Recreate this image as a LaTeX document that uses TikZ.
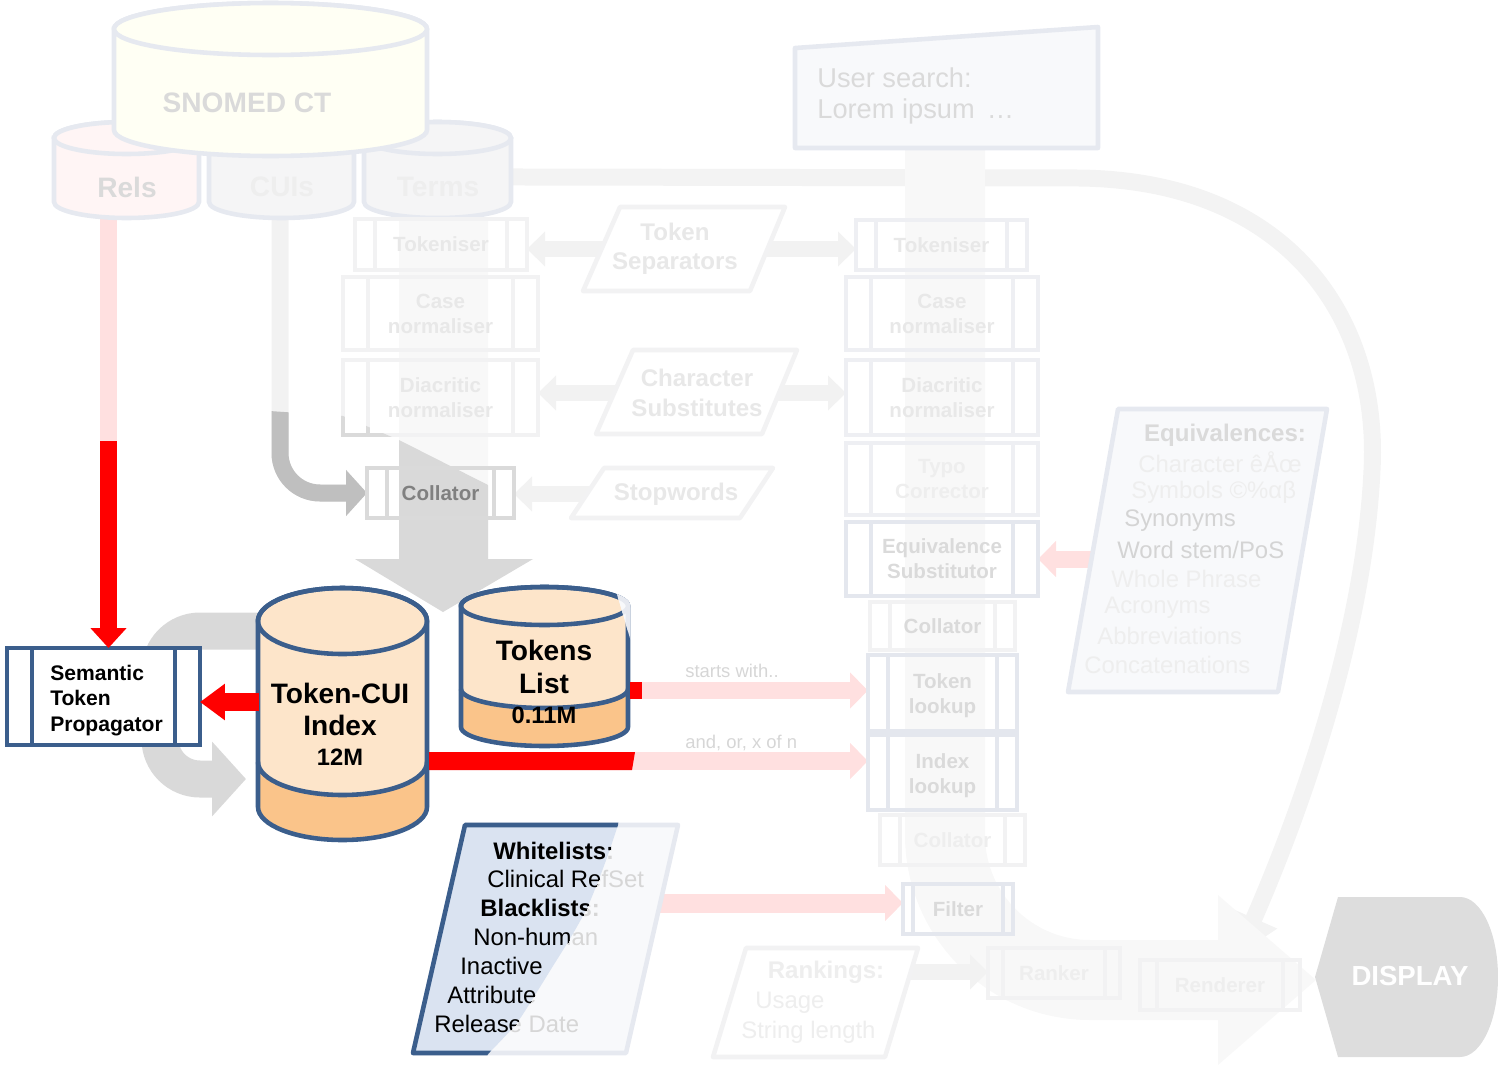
\documentclass[tikz,border=0pt]{standalone}
\usepackage{fontspec}
\setmainfont{Liberation Sans}
\usetikzlibrary{arrows.meta, positioning, calc, backgrounds}

\definecolor{navy}{HTML}{3B5E8C}
\definecolor{peach}{HTML}{FDE5CA}
\definecolor{apricot}{HTML}{FAC48A}
\definecolor{paleblue}{HTML}{DAE3F1}
\definecolor{fadeblue}{HTML}{E6E9F0}
\definecolor{fadefill}{HTML}{F8F9FB}
\definecolor{fadebox}{HTML}{EEEFF3}
\definecolor{faintbox}{HTML}{F2F2F3}
\definecolor{lookbox}{HTML}{E4E7EE}
\definecolor{collgray}{HTML}{DADADA}
\definecolor{colltext}{HTML}{808080}
\definecolor{fadetext}{HTML}{E8E8E8}
\definecolor{palertext}{HTML}{EEEEEE}
\definecolor{dimtext}{HTML}{DADADA}
\definecolor{midtext}{HTML}{D4D4D4}
\definecolor{wltext}{HTML}{D6D6D6}
\definecolor{faintarrow}{HTML}{F2F2F2}
\definecolor{curvefade}{HTML}{F3F3F3}
\definecolor{pinkfade}{HTML}{FFE0E0}
\definecolor{graymid}{HTML}{D9D9D9}
\definecolor{graydark}{HTML}{BFBFBF}
\definecolor{bandgray}{HTML}{F8F8F8}
\definecolor{ivory}{HTML}{FFFFF4}
\definecolor{blush}{HTML}{FFF5F5}
\definecolor{mist}{HTML}{F5F5F6}
\definecolor{dispgray}{HTML}{DDDDDD}

\newcommand{\pipefont}{\fontsize{11.7}{14.2}\selectfont\bfseries}
\newcommand{\semfont}{\fontsize{12}{14.7}\selectfont\bfseries}
\newcommand{\bigfont}{\fontsize{16}{18.7}\selectfont\bfseries}
\newcommand{\numfont}{\fontsize{13.5}{16}\selectfont\bfseries}
\newcommand{\parafont}{\fontsize{13.7}{16.8}\selectfont\bfseries}
\newcommand{\listfont}{\fontsize{13.6}{16.4}\selectfont}
\newcommand{\notefont}{\fontsize{10.5}{12}\selectfont}

% cylinder: [style]{left}{right}{top centre}{bottom centre}{y radius}
\newcommand{\drum}[6][]{%
  \path[#1] (#2,#4) -- (#2,#5)
    arc[start angle=180, end angle=0, x radius={(#3-#2)/2}, y radius=#6]
    -- (#3,#4)
    arc[start angle=0, end angle=-180, x radius={(#3-#2)/2}, y radius=#6]
    -- cycle;
  \path[#1] ({(#2+#3)/2},#4) ellipse [x radius={(#3-#2)/2}, y radius=#6];
}

\begin{document}
\begin{tikzpicture}[
  x=0.02cm, y=-0.02cm,
  barsep/.store in=\barsep, barsep=20,
  bsz/.style 2 args={minimum width=#1*0.02cm, minimum height=#2*0.02cm},
  proc/.style={
    draw=#1,
    line width=2.6pt,
    inner sep=0pt,
    outer sep=0pt,
    align=center,
    font=\pipefont,
    path picture={
      \draw[#1, line width=2.6pt]
        ([xshift=\barsep*0.02cm]path picture bounding box.north west) -- ([xshift=\barsep*0.02cm]path picture bounding box.south west)
        ([xshift=-\barsep*0.02cm]path picture bounding box.north east) -- ([xshift=-\barsep*0.02cm]path picture bounding box.south east);
    }
  },
  para/.style={draw=#1, line width=2.6pt, fill=white, line join=round},
  ghost/.style={text=#1, inner sep=0pt},
  lst/.style={inner sep=0pt, anchor=west, font=\listfont},
  fadefat/.style={draw=faintarrow, line width=0.32cm, -{Triangle[length=0.36cm, width=0.68cm]}},
  pinkfat/.style={draw=pinkfade, line width=0.34cm, -{Triangle[length=0.36cm, width=0.70cm]}},
  redfat/.style={draw=red, line width=0.36cm, -{Triangle[length=0.5cm, width=0.70cm]}},
  drumline/.style={draw=navy, line width=2.6pt},
  fadedrum/.style={fill=#1, draw=fadeblue, line width=2.6pt}
]
\useasboundingbox (0,0) rectangle (1498,1065);

% ======================================================
% SOURCE TABLES
% ======================================================
\drum[fadedrum=blush]{54}{199}{138}{202}{16}
\drum[fadedrum=mist]{209}{354}{138}{202}{16}
\drum[fadedrum=mist]{364}{511}{138}{202}{16}
\drum[fadedrum=ivory]{114}{427}{29}{130}{26}
\node[ghost=dimtext, font=\bigfont] (snomed) at (247,103) {SNOMED CT};
\node[ghost=dimtext, font=\bigfont] (rels) at (127,187) {Rels};
\node[ghost=palertext, font=\bigfont] (cuis) at (282,187) {CUIs};
\node[ghost=palertext, font=\bigfont] (terms) at (438,187) {Terms};

\coordinate (relsB) at (108.5,214);
\coordinate (relsM) at (108.5,441);
\coordinate (cuisB) at (280,214);

% ======================================================
% INDEXING PIPELINE (left)
% ======================================================
\node[proc=faintbox, barsep=20, bsz={172}{51}, text=fadetext] (tokL) at (441,244.5) {Tokeniser};
\node[proc=faintbox, barsep=25, bsz={195}{73}, text=fadetext] (caseL) at (440.5,313.5) {Case\\normaliser};
\node[proc=faintbox, barsep=25, bsz={195}{75}, text=fadetext] (diaL) at (440.5,397.5) {Diacritic\\normaliser};
\node[proc=collgray, barsep=20, bsz={147}{50}, text=colltext] (colL) at (440.5,493) {Collator};

% darker corner of the diacritic box
\begin{scope}
  \clip (240,409) -- (343,416) -- (399,440) -- (488,485) -- (620,552) -- (620,640) -- (240,640) -- cycle;
  \draw[collgray, line width=2.6pt] (diaL.south west) rectangle (diaL.north east);
  \draw[collgray, line width=2.6pt] ([xshift=0.5cm]diaL.south west) -- ([xshift=0.5cm]diaL.north west);
\end{scope}

% ---- shared inputs ----
\path[para=faintbox] (620,207) -- (785,207) -- (750,291) -- (583,291) -- cycle;
\node[ghost=fadetext, font=\parafont, align=center] (tsep) at (675,249) {Token\\Separators};
\path[para=faintbox] (633,350) -- (797,350) -- (762,434) -- (596,434) -- cycle;
\node[ghost=fadetext, font=\parafont, align=center] (csub) at (697,393) {Character\\Substitutes};
\path[para=faintbox] (604,468) -- (773,468) -- (740,518) -- (571,518) -- cycle;
\node[ghost=fadetext, font=\parafont] (stopw) at (676,494) {Stopwords};

% ======================================================
% SEARCH PIPELINE (right)
% ======================================================
\path[fill=fadefill, draw=fadeblue, line width=2.6pt, line join=round] (795,48) -- (1098,27) -- (1098,148) -- (795,148) -- cycle;
\node[ghost=dimtext, anchor=west, font=\fontsize{15.5}{18.7}\selectfont] (usr) at (817,78) {User search:};
\node[ghost=dimtext, anchor=west, font=\fontsize{15.5}{18.7}\selectfont] (lorem) at (817,111) {Lorem ipsum \,…};

\node[proc=fadebox, barsep=20, bsz={171}{50}, text=fadetext] (tokR) at (941.5,245) {Tokeniser};
\node[proc=fadebox, barsep=25, bsz={192}{73}, text=fadetext] (caseR) at (942,313.5) {Case\\normaliser};
\node[proc=fadebox, barsep=25, bsz={192}{75}, text=fadetext] (diaR) at (942,397.5) {Diacritic\\normaliser};
\node[proc=fadebox, barsep=25, bsz={192}{72}, text=palertext] (typo) at (942,479) {Typo\\Corrector};
\node[proc=lookbox, barsep=25, bsz={192}{74}, text=dimtext] (eqsub) at (942,559) {Equivalence\\Substitutor};
\node[proc=faintbox, barsep=20, bsz={145}{48}, text=dimtext] (colR) at (942.5,626) {Collator};
\node[proc=lookbox, barsep=20, bsz={149}{76}, text=dimtext] (toklk) at (942.5,693) {\rule{0pt}{12pt}Token\\lookup};
\node[proc=lookbox, barsep=20, bsz={149}{75}, text=dimtext] (idxlk) at (942.5,772.5) {\rule{0pt}{12pt}Index\\lookup};
\node[proc=faintbox, barsep=20, bsz={145}{50}, text=palertext] (colR2) at (952.5,840) {Collator};
\node[proc=lookbox, barsep=10, bsz={110}{50}, text=dimtext] (filt) at (958,909) {Filter};
\node[proc=faintbox, barsep=15, bsz={132}{50}, text=palertext] (rank) at (1054,973) {Ranker};
\node[proc=faintbox, barsep=17, bsz={160}{50}, text=palertext] (rend) at (1220,985) {Renderer};

% ---- equivalences ----
\path[fill=fadefill, draw=fadeblue, line width=2.6pt, line join=round] (1118,409) -- (1327,409) -- (1278,692) -- (1068,692) -- cycle;
\node[ghost=dimtext, font=\parafont] (eqh) at (1225,435) {Equivalences:};
\foreach \t/\x/\y/\c [count=\i] in {%
  {Character êÅœ}/1138/462/palertext,
  {Symbols ©\%αβ}/1131/492/palertext,
  {Synonyms}/1124/521/midtext,
  {Word stem/PoS}/1117/550/midtext,
  {Whole Phrase}/1111/579/palertext,
  {Acronyms}/1104/608/palertext,
  {Abbreviations}/1097/636/palertext,
  {Concatenations}/1084/665/palertext}
  \node[lst, text=\c] (eq\i) at (\x,\y) {\t};

% ---- rankings ----
\path[para=faintbox] (746,948) -- (918,948) -- (885,1057) -- (713,1057) -- cycle;
\node[ghost=palertext, font=\parafont] (rkh) at (826,972) {Rankings:};
\node[lst, text=palertext] (rk1) at (755,1003) {Usage};
\node[lst, text=palertext] (rk2) at (741,1032) {String length};

% ---- display ----
\path[fill=dispgray] (1338,897) -- (1460,897) arc[start angle=-90, end angle=90, x radius=38, y radius=80] -- (1338,1057) -- (1315,977) -- cycle;
\node[ghost=white, font=\fontsize{15.7}{18}\selectfont\bfseries] (disp) at (1410,976) {DISPLAY};

\node[ghost=wltext, font=\notefont, anchor=west] (sw) at (685,671) {starts with..};
\node[ghost=wltext, font=\notefont, anchor=west] (aon) at (685,743) {and, or, x of n};

% ======================================================
% INDEX STRUCTURES
% ======================================================
\node[proc=navy, barsep=25, bsz={193}{97}, fill=white, font=\semfont, align=left, text=black] (sem) at (103.5,696.5)
  {\hspace*{3.4pt}\rule{0pt}{13.2pt}Semantic\\\hspace*{3.4pt}Token\\\hspace*{3.4pt}Propagator};

% Token-CUI index
\drum[fill=peach]{258}{427}{621}{807}{33}
\fill[apricot] (258,762) arc[start angle=180, end angle=0, x radius=84.5, y radius=33] -- (427,807) arc[start angle=0, end angle=180, x radius=84.5, y radius=33] -- cycle;
\drum[drumline]{258}{427}{621}{807}{33}
\draw[drumline] (258,762) arc[start angle=180, end angle=0, x radius=84.5, y radius=33];
\node[inner sep=0pt, align=center, font=\bigfont] (tcui) at (340,724) {Token-CUI\\Index\\[-2pt]{\numfont 12M}};

% Tokens list
\drum[fill=peach]{461}{628}{606}{727}{19}
\fill[apricot] (461,689) arc[start angle=180, end angle=0, x radius=83.5, y radius=19] -- (628,727) arc[start angle=0, end angle=180, x radius=83.5, y radius=19] -- cycle;
\drum[drumline]{461}{628}{606}{727}{19}
\draw[drumline] (461,689) arc[start angle=180, end angle=0, x radius=83.5, y radius=19];
\begin{scope}
  \clip (610,570) -- (660,570) -- (660,645) -- (632,645) -- cycle;
  \drum[fill=fadefill, draw=fadeblue, line width=2.6pt]{461}{628}{606}{727}{19}
\end{scope}
\node[inner sep=0pt, align=center, font=\bigfont] (tlist) at (544,682) {Tokens\\List\\[-2pt]{\numfont 0.11M}};

\coordinate (tcuiW) at (259,702);
\coordinate (tcuiE) at (429,761);
\coordinate (tlistE) at (630,690.5);
\coordinate (wlout) at (640,903);

% ---- Arrows ----
\draw[redfat, -{Triangle[length=0.4cm, width=0.70cm]}, line width=0.34cm] (relsM) -- (relsM |- sem.north);
\draw[redfat] (tcuiW) -- (sem.east |- tcuiW);
\fill[red] (630,682) rectangle (642,699);
\fill[red] (tcuiE |- 0,752) -- (635,752) -- (632,770) -- (tcuiE |- 0,770) -- cycle;

% ---- white / black lists ----
\path[fill=fadefill, draw=fadeblue, line width=2.6pt, line join=round] (465,825) -- (678,825) -- (626,1053) -- (413,1053) -- cycle;
\foreach \t/\x/\y [count=\i] in {%
  {\textbf{Whitelists:}}/493/851,
  {Clinical RefSet}/487/879,
  {\textbf{Blacklists:}}/480/908,
  {Non-human}/473/937,
  {Inactive}/460/966,
  {Attribute}/447/995,
  {Release Date}/434/1024}
  \node[lst, text=wltext] (wlf\i) at (\x,\y) {\t};
\begin{scope}
  \clip (400,810) -- (620,810) -- plot[smooth] coordinates {(618,825) (609,852) (599,879) (587,908) (571,937) (553,966) (535,995) (516,1024) (489,1053)} -- (478,1068) -- (400,1068) -- cycle;
  \path[fill=paleblue, draw=navy, line width=2.6pt, line join=round] (465,825) -- (678,825) -- (626,1053) -- (413,1053) -- cycle;
  \foreach \t/\x/\y [count=\i] in {%
    {\textbf{Whitelists:}}/493/851,
    {Clinical RefSet}/487/879,
    {\textbf{Blacklists:}}/480/908,
    {Non-human}/473/937,
    {Inactive}/460/966,
    {Attribute}/447/995,
    {Release Date}/434/1024}
    \node[lst, text=black] (wld\i) at (\x,\y) {\t};
\end{scope}

% ======================================================
% BACKGROUND FLOWS
% ======================================================
\begin{scope}[on background layer]
  % terms to renderer
  \draw[curvefade, line width=0.34cm, -{Triangle[length=0.8cm, width=0.96cm]}]
    (terms.north) -- (1080,178) .. controls (1290,181) and (1380,320) .. (1372,470)
    .. controls (1365,620) and (1310,790) .. ([xshift=0.36cm, yshift=0.1cm]rend.north);
  % search column
  \fill[bandgray] (905,148) -- (985,148) -- (985,835) arc[start angle=180, end angle=90, radius=105]
    -- (1218,940) -- (1218,895) -- (1316,980) -- (1218,1065) -- (1218,1020) -- (1090,1020)
    arc[start angle=90, end angle=180, radius=185] -- cycle;
  % index column
  \fill[bandgray] (399,218) -- (488,218) -- (488,559) -- (533,559) -- (443,612) -- (355,559) -- (399,559) -- cycle;
  \draw[faintarrow, line width=0.34cm, rounded corners=0.8cm, -{Triangle[length=0.42cm, width=0.9cm]}]
    (cuisB) -- (cuisB |- colL.west) -- (colL.west);
  \begin{scope}
    \clip (240,409) -- (343,416) -- (399,440) -- (488,485) -- (620,552) -- (620,640) -- (240,640) -- cycle;
    \fill[graymid] (399,218) -- (488,218) -- (488,559) -- (533,559) -- (443,612) -- (355,559) -- (399,559) -- cycle;
    \draw[graydark, line width=0.34cm, rounded corners=0.8cm, -{Triangle[length=0.42cm, width=0.9cm]}]
      (cuisB) -- (cuisB |- colL.west) -- (colL.west);
  \end{scope}
  % propagator loop
  \draw[graymid, line width=0.74cm, rounded corners=0.8cm, -{Triangle[length=0.68cm, width=1.46cm]}]
    (tcui.west |- 0,631) -- (160,631) -- (160,779) -- (246,779);
  % side inputs
  \draw[fadefat] (tsep) -- (tokL.east |- tsep);
  \draw[fadefat] (tsep) -- (tokR.west |- tsep);
  \draw[fadefat] (csub) -- (diaL.east |- csub);
  \draw[fadefat] (csub) -- (diaR.west |- csub);
  \draw[fadefat] (stopw) -- (colL.east |- stopw);
  \draw[fadefat] (rkh) -- (rank.west |- rkh);
  \draw[pinkfat] (eqsub.east -| eqh.west) -- (eqsub.east);
  \draw[pinkfat, line width=0.38cm] (wlout) -- (filt.west |- wlout);
  \draw[pinkfat] (tlistE) -- (toklk.west |- tlistE);
  \draw[pinkfat, line width=0.36cm] (tcuiE) -- (idxlk.west |- tcuiE);
  \draw[line width=0.34cm, pinkfade] (relsB) -- (relsM);
\end{scope}

\end{tikzpicture}
\end{document}
